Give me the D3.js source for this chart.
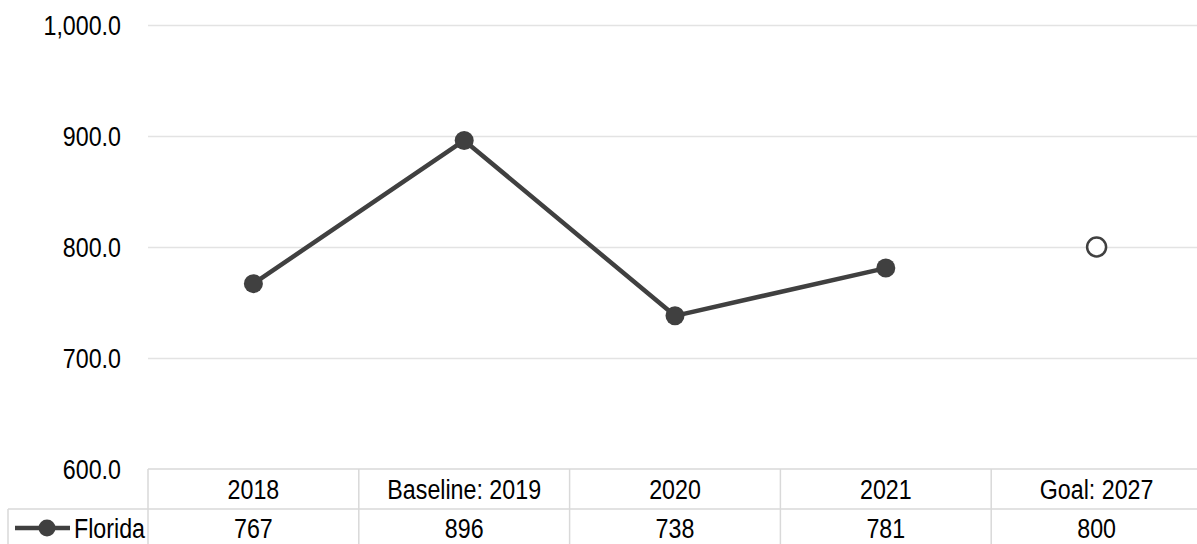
<!DOCTYPE html>
<html><head><meta charset="utf-8">
<script src="https://cdn.jsdelivr.net/npm/d3@7"></script>
<style>
html,body{margin:0;padding:0;background:#fff;}
svg{display:block;}
text{font-family:"Liberation Sans Narrow","Arial Narrow","Liberation Sans",Arial,sans-serif;fill:#000;}
</style></head>
<body>
<svg id="chart" width="1197" height="544"></svg>
<script>
const categories = ["2018", "Baseline: 2019", "2020", "2021", "Goal: 2027"];
const seriesName = "Florida";
const values = [767, 896, 738, 781, 800];
const tableLabels = ["767", "896", "738", "781", "800"];
const yTicks = [600, 700, 800, 900, 1000];
const lineCount = 4; // first four connected; goal shown as open marker

const svg = d3.select("#chart");
const plotLeft = 148, plotRight = 1202, plotTop = 25, plotBottom = 469;
const rowH = 40;
const legendLeft = 8;
const grid = "#e3e3e3", tableColor = "#d9d9d9", ink = "#404040";
const FS = 28, SX = 0.83; // condensed look

const x = d3.scaleBand().domain(categories).range([plotLeft, plotRight]);
const y = d3.scaleLinear().domain([600, 1000]).range([plotBottom, plotTop]);

function narrowText(g, tx, ty, str, anchor) {
  g.append("g").attr("transform", `translate(${tx},${ty}) scale(${SX},1)`)
    .append("text").attr("x", 0).attr("y", 0)
    .attr("text-anchor", anchor).attr("dominant-baseline", "central")
    .attr("font-size", FS).text(str);
}

// gridlines via axis
const yAxis = d3.axisLeft(y).tickValues(yTicks).tickSize(-(plotRight - plotLeft)).tickFormat("");
const gAxis = svg.append("g").attr("transform", `translate(${plotLeft},0)`).call(yAxis);
gAxis.select(".domain").remove();
gAxis.selectAll(".tick line").attr("stroke", grid).attr("stroke-width", 1.5)
  .filter(d => d === 600).remove();
const fmt = d3.format(",.1f");
yTicks.forEach(t => narrowText(svg, 121, y(t), fmt(t), "end"));

// data table
const tbl = svg.append("g");
const r1 = plotBottom, r2 = plotBottom + rowH, r3 = plotBottom + rowH * 2;
tbl.append("line").attr("x1", plotLeft).attr("x2", plotRight).attr("y1", r1).attr("y2", r1);
tbl.append("line").attr("x1", legendLeft).attr("x2", plotRight).attr("y1", r2).attr("y2", r2);
tbl.append("line").attr("x1", legendLeft).attr("x2", plotRight).attr("y1", r3).attr("y2", r3);
tbl.append("line").attr("x1", legendLeft).attr("x2", legendLeft).attr("y1", r2).attr("y2", r3);
tbl.selectAll("line.col").data(categories).enter().append("line").attr("class", "col")
  .attr("x1", d => x(d)).attr("x2", d => x(d)).attr("y1", r1).attr("y2", r3);
tbl.selectAll("line").attr("stroke", tableColor).attr("stroke-width", 1.5);

categories.forEach(c => narrowText(tbl, x(c) + x.bandwidth() / 2, r1 + rowH / 2, c, "middle"));
tableLabels.forEach((l, i) => narrowText(tbl, x(categories[i]) + x.bandwidth() / 2, r2 + rowH / 2 - 1, l, "middle"));

// legend key
const lg = svg.append("g");
const ly = r2 + rowH / 2 - 1;
lg.append("line").attr("x1", 15).attr("x2", 70).attr("y1", ly).attr("y2", ly)
  .attr("stroke", ink).attr("stroke-width", 4.5);
lg.append("circle").attr("cx", 47).attr("cy", ly).attr("r", 8.5).attr("fill", ink);
narrowText(lg, 74, ly, seriesName, "start");

// series
const pts = values.map((v, i) => ({cat: categories[i], v}));
const cx = d => x(d.cat) + x.bandwidth() / 2;
svg.append("path").datum(pts.slice(0, lineCount))
  .attr("fill", "none").attr("stroke", ink).attr("stroke-width", 4.5).attr("stroke-linejoin", "round")
  .attr("d", d3.line().x(cx).y(d => y(d.v)));
svg.selectAll("circle.pt").data(pts.slice(0, lineCount)).enter().append("circle").attr("class", "pt")
  .attr("cx", cx).attr("cy", d => y(d.v)).attr("r", 9.5).attr("fill", ink);
svg.selectAll("circle.goal").data(pts.slice(lineCount)).enter().append("circle").attr("class", "goal")
  .attr("cx", cx).attr("cy", d => y(d.v)).attr("r", 9.5).attr("fill", "#fff")
  .attr("stroke", ink).attr("stroke-width", 2.5);
</script>
</body></html>
